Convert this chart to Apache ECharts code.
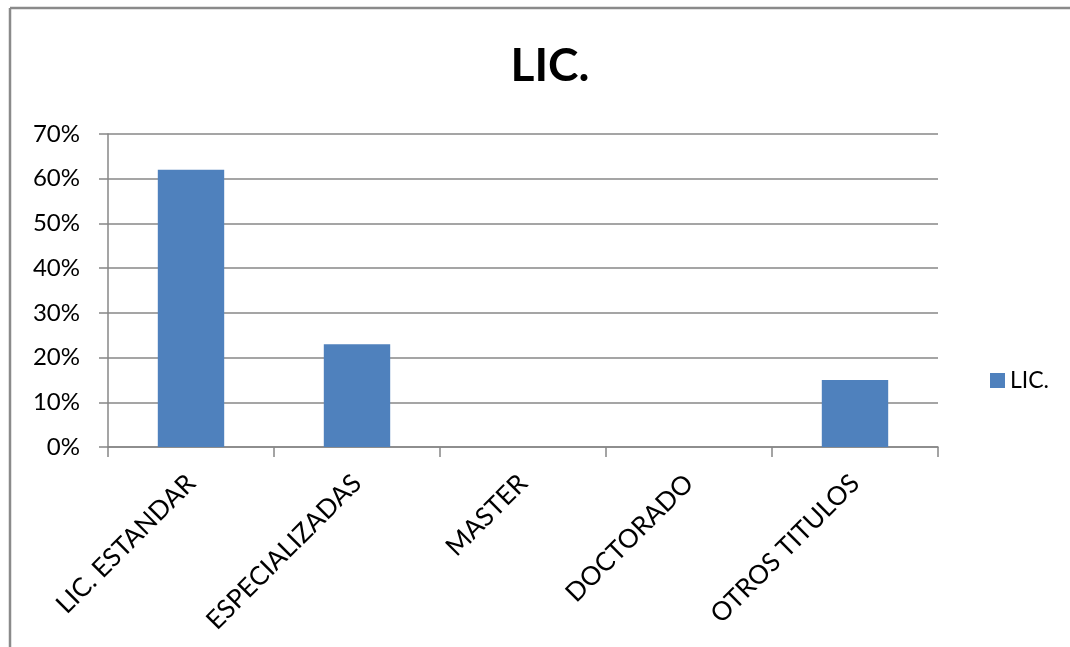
<!DOCTYPE html>
<html>
<head>
<meta charset="utf-8">
<title>LIC.</title>
<script src="https://cdn.jsdelivr.net/npm/echarts@6/dist/echarts.min.js"></script>
<style>
  html, body { margin: 0; padding: 0; background: #fff; overflow: hidden; }
  #chart { width: 1070px; height: 647px; }
</style>
</head>
<body>
<div id="chart"></div>
<script>
// Degree categories and share of each (percent)
const categories = ['LIC. ESTANDAR', 'ESPECIALIZADAS', 'MASTER', 'DOCTORADO', 'OTROS TITULOS'];
const licValues = [62, 23, 0, 0, 15];
const seriesName = 'LIC.';
const yTicks = { min: 0, max: 70, interval: 10 };

const FONT = 'Lato, "Open Sans", sans-serif';
const chart = echarts.init(document.getElementById('chart'), null, { renderer: 'canvas' });

chart.setOption({
  backgroundColor: '#ffffff',
  animation: false,
  textStyle: { fontFamily: FONT, color: '#000' },
  title: {
    text: 'LIC.',
    left: 545,
    top: 38,
    textAlign: 'center',
    textStyle: { fontFamily: FONT, fontSize: 46, fontWeight: 'bold', color: '#000' }
  },
  legend: {
    data: [seriesName],
    left: 985,
    top: 364,
    orient: 'vertical',
    icon: 'rect',
    itemWidth: 15,
    itemHeight: 15,
    itemGap: 6,
    textStyle: { fontFamily: FONT, fontSize: 23, color: '#000' }
  },
  grid: { left: 108, right: 132, top: 134, bottom: 200, containLabel: false },
  xAxis: {
    type: 'category',
    data: categories,
    boundaryGap: true,
    axisLine: { show: true, lineStyle: { color: '#878787', width: 1.5 } },
    axisTick: { show: true, length: 10, alignWithLabel: false, lineStyle: { color: '#878787', width: 1.5 } },
    axisLabel: {
      rotate: 45,
      margin: 32,
      interval: 0,
      fontFamily: FONT,
      fontSize: 26,
      color: '#000'
    },
    splitLine: { show: false }
  },
  yAxis: {
    type: 'value',
    min: yTicks.min,
    max: yTicks.max,
    interval: yTicks.interval,
    axisLine: { show: true, lineStyle: { color: '#878787', width: 1.5 } },
    axisTick: { show: true, length: 9, lineStyle: { color: '#878787', width: 1.5 } },
    axisLabel: {
      formatter: '{value}%',
      margin: 28,
      fontFamily: FONT,
      fontSize: 24,
      color: '#000'
    },
    splitLine: { show: true, lineStyle: { color: '#878787', width: 1.5 } }
  },
  series: [{
    name: seriesName,
    type: 'bar',
    data: licValues,
    barCategoryGap: '60%',
    itemStyle: { color: '#4F81BD' }
  }],
  graphic: [
    {
      type: 'line',
      shape: { x1: 10, y1: 8, x2: 1070, y2: 8 },
      style: { stroke: '#8a8a8a', lineWidth: 2.5 },
      silent: true,
      z: 100
    },
    {
      type: 'line',
      shape: { x1: 10, y1: 8, x2: 10, y2: 647 },
      style: { stroke: '#8a8a8a', lineWidth: 2.5 },
      silent: true,
      z: 100
    }
  ]
});
</script>
</body>
</html>
